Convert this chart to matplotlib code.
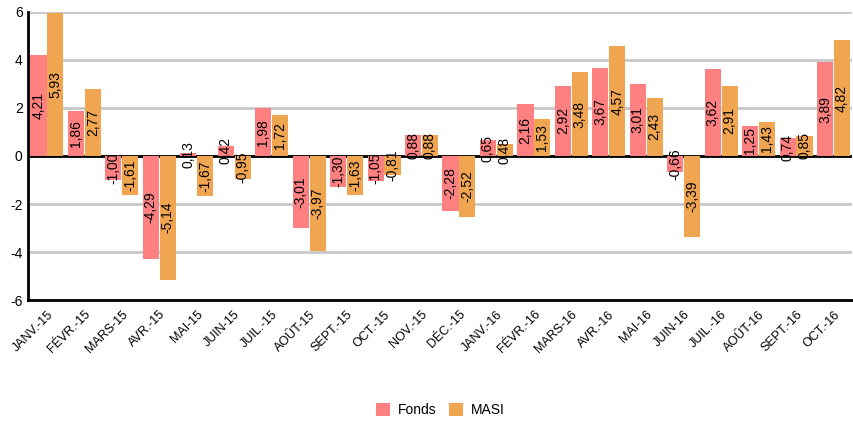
import matplotlib.pyplot as plt
import numpy as np

# months and monthly performance (%)
months = ['JANV.-15', 'FÉVR.-15', 'MARS-15', 'AVR.-15', 'MAI-15', 'JUIN-15',
          'JUIL.-15', 'AOÛT-15', 'SEPT.-15', 'OCT.-15', 'NOV.-15', 'DÉC.-15',
          'JANV.-16', 'FÉVR.-16', 'MARS-16', 'AVR.-16', 'MAI-16', 'JUIN-16',
          'JUIL.-16', 'AOÛT-16', 'SEPT.-16', 'OCT.-16']
fonds = [4.21, 1.86, -1.00, -4.29, 0.13, 0.42, 1.98, -3.01, -1.30, -1.05, 0.88,
         -2.28, 0.65, 2.16, 2.92, 3.67, 3.01, -0.66, 3.62, 1.25, 0.74, 3.89]
masi = [5.93, 2.77, -1.61, -5.14, -1.67, -0.95, 1.72, -3.97, -1.63, -0.81, 0.88,
        -2.52, 0.48, 1.53, 3.48, 4.57, 2.43, -3.39, 2.91, 1.43, 0.85, 4.82]

plt.rcParams['font.family'] = ['Liberation Sans', 'DejaVu Sans']

fig = plt.figure(figsize=(8.54, 4.21), dpi=100)
ax = fig.add_axes([0.033, 0.287, 0.965, 0.685])

x = np.arange(len(months))
w = 0.43
c_fonds = '#FF8080'
c_masi = '#F0A550'
b1 = ax.bar(x - w / 2 - 0.01, fonds, w, color=c_fonds, label='Fonds', zorder=3)
b2 = ax.bar(x + w / 2 + 0.01, masi, w, color=c_masi, label='MASI', zorder=3)

# value labels, vertical, centered in the bars
for bars, vals in ((b1, fonds), (b2, masi)):
    for b, v in zip(bars, vals):
        ax.text(b.get_x() + b.get_width() / 2, v / 2,
                ('%.2f' % v).replace('.', ','),
                rotation=90, ha='center', va='center', fontsize=10, zorder=4)

ax.set_xlim(-0.5, len(months) - 0.5)
ax.set_ylim(-6, 6)
ax.set_yticks([-6, -4, -2, 0, 2, 4, 6])
ax.set_yticklabels(['-6', '-4', '-2', '0', '2', '4', '6'], fontsize=10)
ax.set_xticks(x)
ax.set_xticklabels(months, rotation=45, ha='right', rotation_mode='anchor', fontsize=9)
ax.tick_params(length=0, pad=4)
ax.tick_params(axis='x', pad=6)

ax.grid(axis='y', color='#C8C8C8', linewidth=2, zorder=0)
ax.axhline(0, color='black', linewidth=2, zorder=2)
for s in ['top', 'right']:
    ax.spines[s].set_visible(False)
for s in ['left', 'bottom']:
    ax.spines[s].set_linewidth(2)
    ax.spines[s].set_color('black')

ax.legend(handles=[b1, b2], labels=['Fonds', 'MASI'], loc='center',
          bbox_to_anchor=(0.5, -0.382), ncol=2, frameon=False, fontsize=10,
          handlelength=1.0, handleheight=1.0, handletextpad=0.57, columnspacing=0.93)

plt.savefig('out.png', dpi=100)
